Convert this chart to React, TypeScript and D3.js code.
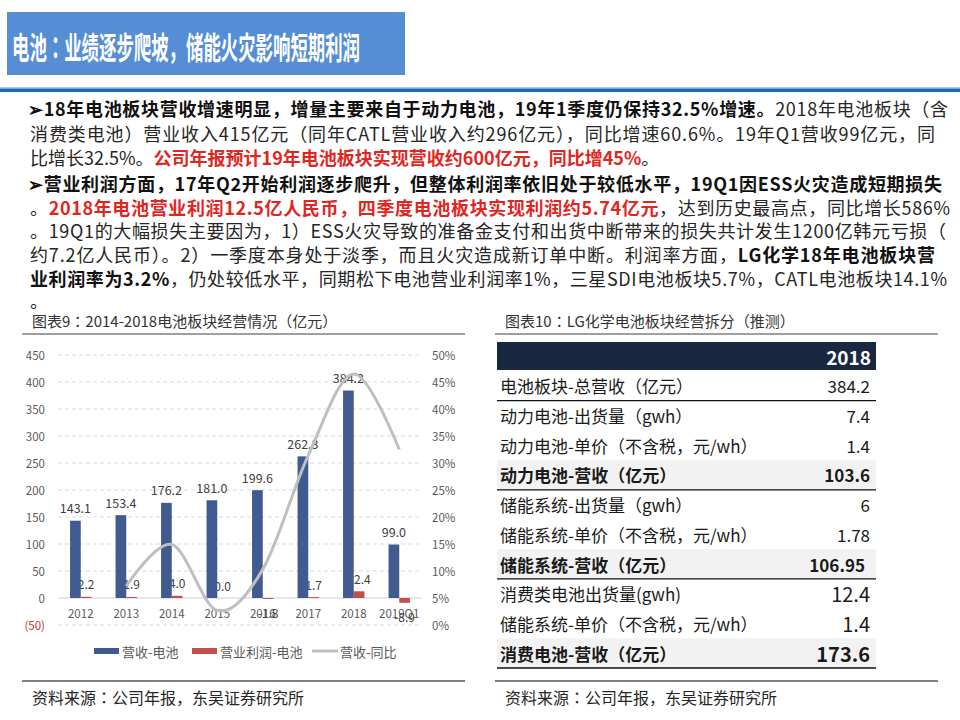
import React from "react";
import * as d3 from "d3";

const categories = ["2012", "2013", "2014", "2015", "2016", "2017", "2018", "2019Q1"];
const revenue = [143.1, 153.4, 176.2, 181.0, 199.6, 262.3, 384.2, 99.0];
const profit = [2.2, 1.9, 4.0, 0.0, -1.8, 1.7, 12.4, -8.9];
const growthCats = ["2013", "2014", "2015", "2016", "2017", "2018", "2019Q1"];
const growth = [7.2, 14.9, 2.7, 10.3, 31.4, 46.5, 32.5];
const leftTicks = [-50, 0, 50, 100, 150, 200, 250, 300, 350, 400, 450];
const rightTicks = [0, 5, 10, 15, 20, 25, 30, 35, 40, 45, 50];
const legendNames = ["营收-电池", "营业利润-电池", "营收-同比"];

const tableHeader = "2018";
const tableLabels = [
  "电池板块-总营收（亿元）",
  "动力电池-出货量（gwh）",
  "动力电池-单价（不含税，元/wh）",
  "动力电池-营收（亿元）",
  "储能系统-出货量（gwh）",
  "储能系统-单价（不含税，元/wh）",
  "储能系统-营收（亿元）",
  "消费类电池出货量(gwh)",
  "储能系统-单价（不含税，元/wh）",
  "消费电池-营收（亿元）",
];
const tableValues = ["384.2", "7.4", "1.4", "103.6", "6", "1.78", "106.95", "12.4", "1.4", "173.6"];

const titleText = "电池：业绩逐步爬坡，储能火灾影响短期利润";
const chart9Title = "图表9：2014-2018电池板块经营情况（亿元）";
const chart10Title = "图表10：LG化学电池板块经营拆分（推测）";
const sourceText = "资料来源：公司年报，东吴证券研究所";

// paragraph segments: [text, style] where style: n normal, b bold, r bold red
type Seg = [string, string];
const paraLines: Seg[][] = [
  [["➢18年电池板块营收增速明显，增量主要来自于动力电池，19年1季度仍保持32.5%增速。", "b"], ["2018年电池板块（含", "n"]],
  [["消费类电池）营业收入415亿元（同年CATL营业收入约296亿元），同比增速60.6%。19年Q1营收99亿元，同", "n"]],
  [["比增长32.5%。", "n"], ["公司年报预计19年电池板块实现营收约600亿元，同比增45%", "r"], ["。", "n"]],
  [["➢营业利润方面，17年Q2开始利润逐步爬升，但整体利润率依旧处于较低水平，19Q1因ESS火灾造成短期损失", "b"]],
  [["。", "n"], ["2018年电池营业利润12.5亿人民币，四季度电池板块实现利润约5.74亿元", "r"], ["，达到历史最高点，同比增长586%", "n"]],
  [["。19Q1的大幅损失主要因为，1）ESS火灾导致的准备金支付和出货中断带来的损失共计发生1200亿韩元亏损（", "n"]],
  [["约7.2亿人民币）。2）一季度本身处于淡季，而且火灾造成新订单中断。利润率方面，", "n"], ["LG化学18年电池板块营", "b"]],
  [["业利润率为3.2%", "b"], ["，仍处较低水平，同期松下电池营业利润率1%，三星SDI电池板块5.7%，CATL电池板块14.1%", "n"]],
  [["。", "n"]],
];
const lineY = [108, 133, 157, 183, 207, 230, 254, 278, 300];
const lineX = [28, 30, 30, 28, 30, 30, 30, 30, 30];
const lineEnd = [948, 935, 0, 942, 950, 946, 935, 947, 0];

const FONT = "'Noto Sans CJK SC', 'Noto Sans', sans-serif";
const FONT_JP = "'Noto Sans CJK JP', 'Noto Sans CJK SC', sans-serif";

// render full-width colons centred (as in the reference)
function withColon(s: string) {
  const parts = s.split("：");
  const out: React.ReactNode[] = [];
  parts.forEach((p, i) => {
    out.push(<tspan key={"p" + i}>{p}</tspan>);
    if (i < parts.length - 1) out.push(<tspan key={"c" + i} fontFamily={FONT_JP}>：</tspan>);
  });
  return out;
}

export default function App() {
  const x = d3.scaleBand<string>().domain(categories).range([58, 422]).paddingInner(0).paddingOuter(0);
  const y = d3.scaleLinear().domain([-50, 450]).range([625, 355]);
  const y2 = d3.scaleLinear().domain([0, 50]).range([625, 355]);
  const bw = x.bandwidth() * 0.235;
  const cx = (c: string) => (x(c) as number) + x.bandwidth() / 2;

  const line = d3
    .line<number>()
    .x((_, i) => cx(growthCats[i]))
    .y((d) => y2(d))
    .curve(d3.curveCatmullRom.alpha(0));

  const rowTop = 371;
  const rowH = 29.7;
  const boldRows = new Set([3, 6, 9]);
  const bigRows = new Set([7, 8, 9]);

  return (
    <svg width={960} height={720} style={{ position: "absolute", left: 0, top: 0, display: "block", background: "#fff" }} fontFamily={FONT}>
      {/* title banner */}
      <rect x={7} y={12} width={398} height={63} fill="#558ED5" />
      <text x={12} y={45} fill="#fff" fontSize={31} fontWeight="bold" fontFamily={FONT_JP} dominantBaseline="central" textLength={348} lengthAdjust="spacingAndGlyphs">
        {titleText}
      </text>
      <rect x={0} y={87} width={960} height={1.5} fill="#A9CBEB" />
      <rect x={0} y={88.5} width={960} height={3.5} fill="#1F6AAF" />

      {/* paragraphs */}
      {paraLines.map((segs, i) => {
        const extra = lineEnd[i] ? { textLength: lineEnd[i] - lineX[i], lengthAdjust: "spacing" } : {};
        return (
          <text key={i} x={lineX[i]} y={lineY[i]} fontSize={18} dominantBaseline="central" fill="#262626" {...(extra as any)}>
            {segs.map((s, j) => (
              <tspan key={j} fontWeight={s[1] === "n" ? "normal" : "bold"} fill={s[1] === "r" ? "#E0261F" : s[1] === "b" ? "#111" : "#262626"}>
                {s[0]}
              </tspan>
            ))}
          </text>
        );
      })}

      {/* left chart caption */}
      <text x={32} y={320} fontSize={15} fill="#333" dominantBaseline="central">{withColon(chart9Title)}</text>
      <line x1={22} x2={465} y1={334} y2={334} stroke="#404040" strokeWidth={1.2} />

      {/* gridlines */}
      {leftTicks.map((t) => (
        <line key={t} x1={58} x2={422} y1={y(t)} y2={y(t)} stroke={t === 0 ? "#D0D0D0" : "#D9D9D9"} strokeWidth={1} strokeDasharray={t === 0 ? undefined : "4,3"} />
      ))}
      {leftTicks.map((t) => (
        <text key={t} x={45} y={y(t)} fontSize={11.5} textAnchor="end" dominantBaseline="central" fill={t < 0 ? "#C0392B" : "#595959"}>
          {t < 0 ? `(${Math.abs(t)})` : t}
        </text>
      ))}
      {rightTicks.map((t) => (
        <text key={t} x={432} y={y2(t)} fontSize={11.5} textAnchor="start" dominantBaseline="central" fill="#595959">
          {t}%
        </text>
      ))}
      {categories.map((c) => (
        <text key={c} x={cx(c)} y={613} fontSize={11.5} textAnchor="middle" dominantBaseline="central" fill="#595959">
          {c}
        </text>
      ))}

      {/* profit labels (under bars) */}
      {profit.map((v, i) => {
        const c = categories[i];
        const px = cx(c) + bw / 2;
        const ly = v >= 0 ? y(v) - 13 : y(v) + 14;
        return (
          <text key={c} x={px} y={ly} fontSize={12} textAnchor="middle" dominantBaseline="central" fill="#404040">
            {v.toFixed(1)}
          </text>
        );
      })}

      {/* revenue bars */}
      {revenue.map((v, i) => (
        <rect key={categories[i]} x={cx(categories[i]) - bw} y={y(v)} width={bw} height={y(0) - y(v)} fill="#3F5B8F" />
      ))}
      {/* profit bars */}
      {profit.map((v, i) => (
        <rect key={categories[i]} x={cx(categories[i])} y={Math.min(y(v), y(0))} width={bw} height={Math.abs(y(0) - y(v))} fill="#C0504D" />
      ))}
      {/* revenue labels */}
      {revenue.map((v, i) => (
        <text key={categories[i]} x={cx(categories[i]) - bw / 2} y={y(v) - 13} fontSize={12.5} textAnchor="middle" dominantBaseline="central" fill="#404040">
          {v.toFixed(1)}
        </text>
      ))}

      {/* growth line */}
      <path d={line(growth) || ""} fill="none" stroke="#BFBFBF" strokeWidth={3} />

      {/* legend */}
      <rect x={94} y={648} width={25} height={6} fill="#3F5B8F" />
      <text x={122} y={651} fontSize={13} dominantBaseline="central" fill="#595959">{legendNames[0]}</text>
      <rect x={192} y={648} width={25} height={6} fill="#C0504D" />
      <text x={220} y={651} fontSize={13} dominantBaseline="central" fill="#595959">{legendNames[1]}</text>
      <line x1={312} x2={338} y1={651} y2={651} stroke="#BFBFBF" strokeWidth={3} />
      <text x={340} y={651} fontSize={13} dominantBaseline="central" fill="#595959">{legendNames[2]}</text>

      <line x1={22} x2={465} y1={681} y2={681} stroke="#808080" strokeWidth={2} />
      <text x={32} y={697} fontSize={16} dominantBaseline="central" fill="#262626">{withColon(sourceText)}</text>

      {/* right table */}
      <text x={505} y={320} fontSize={15} fill="#333" dominantBaseline="central">{withColon(chart10Title)}</text>
      <line x1={495} x2={938} y1={334} y2={334} stroke="#404040" strokeWidth={1.2} />
      <rect x={497} y={342} width={379} height={28} fill="#1A2740" />
      <text x={871} y={356} fontSize={19} fontWeight="bold" fill="#fff" textAnchor="end" dominantBaseline="central">{tableHeader}</text>
      {tableLabels.map((lab, i) => {
        const top = rowTop + i * rowH;
        const mid = top + rowH / 2;
        const bold = boldRows.has(i);
        return (
          <g key={i}>
            {bold && <rect x={497} y={top} width={379} height={rowH} fill="#F2F2F2" />}
            <text x={500} y={mid} fontSize={17} fontWeight={bold ? "bold" : "normal"} fill="#1a1a1a" dominantBaseline="central">{lab}</text>
            <text x={i === 6 ? 865 : 870} y={mid} fontSize={bigRows.has(i) ? 20 : 17} fontWeight={bold ? "bold" : "normal"} fill="#1a1a1a" textAnchor="end" dominantBaseline="central">
              {tableValues[i]}
            </text>
          </g>
        );
      })}
      {[0, 3, 6, 9].map((i) => (
        <line key={i} x1={497} x2={876} y1={rowTop + (i + 1) * rowH} y2={rowTop + (i + 1) * rowH} stroke="#111" strokeWidth={1.3} />
      ))}
      <line x1={495} x2={938} y1={681} y2={681} stroke="#808080" strokeWidth={2} />
      <text x={505} y={697} fontSize={16} dominantBaseline="central" fill="#262626">{withColon(sourceText)}</text>
    </svg>
  );
}
